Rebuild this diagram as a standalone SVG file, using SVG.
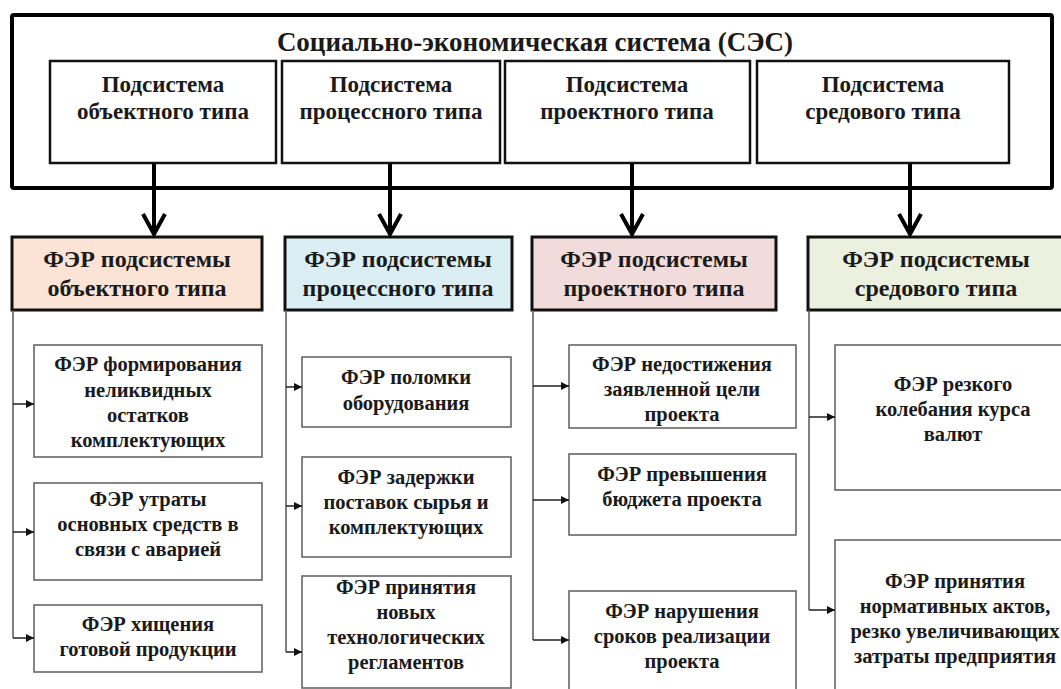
<svg xmlns="http://www.w3.org/2000/svg" width="1061" height="689" viewBox="0 0 1061 689" font-family="Liberation Serif, Tinos, Times New Roman, serif">
<style>
text{font-weight:700;fill:#1a1a1a;text-anchor:middle}
.title{font-size:27px}
.sub{font-size:23px}
.hdr{font-size:24px}
.ch{font-size:20.5px}
.outer{fill:none;stroke:#000;stroke-width:4}
.sbox{fill:#fff;stroke:#111;stroke-width:2.5}
.hbox{stroke:#111;stroke-width:3}
.cbox{fill:#fff;stroke:#666;stroke-width:1.6}
.big{fill:none;stroke:#000;stroke-width:4}
.thin{fill:none;stroke:#555;stroke-width:1.5}
.br{fill:none;stroke:#222;stroke-width:1.5}
</style>
<defs>
<marker id="sm" viewBox="0 0 10 10" refX="10" refY="5" markerWidth="9" markerHeight="8" markerUnits="userSpaceOnUse" orient="auto">
<path d="M0,0 L10,5 L0,10 z" fill="#111"/>
</marker>
</defs>
<rect width="1061" height="689" fill="#fff"/>
<g id="ses">
<rect class="outer" x="12" y="15" width="1040" height="173" rx="2"/>
<text class="title" x="535" y="51">Социально-экономическая система (СЭС)</text>
</g>
<g id="sub1"><rect class="sbox" x="50" y="61" width="226" height="102"/><text class="sub" x="163" y="92">Подсистема</text><text class="sub" x="163" y="119">объектного типа</text></g>
<g id="sub2"><rect class="sbox" x="282" y="61" width="218" height="102"/><text class="sub" x="391" y="92">Подсистема</text><text class="sub" x="391" y="119">процессного типа</text></g>
<g id="sub3"><rect class="sbox" x="505" y="61" width="245" height="102"/><text class="sub" x="627" y="92">Подсистема</text><text class="sub" x="627" y="119">проектного типа</text></g>
<g id="sub4"><rect class="sbox" x="757" y="61" width="252" height="102"/><text class="sub" x="883" y="92">Подсистема</text><text class="sub" x="883" y="119">средового типа</text></g>

<g id="fer1"><rect class="hbox" x="12" y="237" width="250" height="73" fill="#fbe4d5"/><text class="hdr" x="137" y="267">ФЭР подсистемы</text><text class="hdr" x="137" y="296">объектного типа</text></g>
<g id="fer2"><rect class="hbox" x="285" y="237" width="227" height="73" fill="#dbeef4"/><text class="hdr" x="398" y="267">ФЭР подсистемы</text><text class="hdr" x="398" y="296">процессного типа</text></g>
<g id="fer3"><rect class="hbox" x="532" y="237" width="244" height="73" fill="#f2dcdb"/><text class="hdr" x="654" y="267">ФЭР подсистемы</text><text class="hdr" x="654" y="296">проектного типа</text></g>
<g id="fer4"><rect class="hbox" x="808" y="237" width="258" height="73" fill="#ebf1de"/><text class="hdr" x="936" y="267">ФЭР подсистемы</text><text class="hdr" x="936" y="296">средового типа</text></g>

<g id="c1a"><rect class="cbox" x="34" y="345" width="228" height="112"/><text class="ch" x="148" y="371">ФЭР формирования</text><text class="ch" x="148" y="397">неликвидных</text><text class="ch" x="148" y="422">остатков</text><text class="ch" x="148" y="447">комплектующих</text></g>
<g id="c1b"><rect class="cbox" x="34" y="483" width="228" height="97"/><text class="ch" x="148" y="506">ФЭР утраты</text><text class="ch" x="148" y="531">основных средств в</text><text class="ch" x="148" y="556">связи с аварией</text></g>
<g id="c1c"><rect class="cbox" x="34" y="605" width="228" height="67"/><text class="ch" x="148" y="631">ФЭР хищения</text><text class="ch" x="148" y="656">готовой продукции</text></g>

<g id="c2a"><rect class="cbox" x="302" y="357" width="209" height="70"/><text class="ch" x="406" y="384">ФЭР поломки</text><text class="ch" x="406" y="410">оборудования</text></g>
<g id="c2b"><rect class="cbox" x="302" y="457" width="209" height="100"/><text class="ch" x="406" y="484">ФЭР задержки</text><text class="ch" x="406" y="509">поставок сырья и</text><text class="ch" x="406" y="534">комплектующих</text></g>
<g id="c2c"><rect class="cbox" x="302" y="576" width="209" height="112"/><text class="ch" x="406" y="594">ФЭР принятия</text><text class="ch" x="406" y="619">новых</text><text class="ch" x="406" y="644">технологических</text><text class="ch" x="406" y="669">регламентов</text></g>

<g id="c3a"><rect class="cbox" x="569" y="345" width="227" height="83"/><text class="ch" x="682" y="371">ФЭР недостижения</text><text class="ch" x="682" y="396">заявленной цели</text><text class="ch" x="682" y="421">проекта</text></g>
<g id="c3b"><rect class="cbox" x="569" y="454" width="227" height="81"/><text class="ch" x="682" y="481">ФЭР превышения</text><text class="ch" x="682" y="506">бюджета проекта</text></g>
<g id="c3c"><rect class="cbox" x="569" y="591" width="227" height="110"/><text class="ch" x="682" y="618">ФЭР нарушения</text><text class="ch" x="682" y="643">сроков реализации</text><text class="ch" x="682" y="668">проекта</text></g>

<g id="c4a"><rect class="cbox" x="835" y="345" width="235" height="145"/><text class="ch" x="953" y="391">ФЭР резкого</text><text class="ch" x="953" y="416">колебания курса</text><text class="ch" x="953" y="441">валют</text></g>
<g id="c4b"><rect class="cbox" x="835" y="540" width="235" height="160"/><text class="ch" x="955" y="588">ФЭР принятия</text><text class="ch" x="955" y="613">нормативных актов,</text><text class="ch" x="955" y="638">резко увеличивающих</text><text class="ch" x="955" y="663">затраты предприятия</text></g>

<g id="connectors">
<path class="big" d="M154,163 V234 M143,214 L154,234 L165,214"/>
<path class="big" d="M390,163 V234 M379,214 L390,234 L401,214"/>
<path class="big" d="M632,163 V234 M621,214 L632,234 L643,214"/>
<path class="big" d="M910,163 V234 M899,214 L910,234 L921,214"/>
<path class="thin" d="M13,310 V638"/>
<line class="br" x1="13" y1="404" x2="34" y2="404" marker-end="url(#sm)"/>
<line class="br" x1="13" y1="532" x2="34" y2="532" marker-end="url(#sm)"/>
<line class="br" x1="13" y1="638" x2="34" y2="638" marker-end="url(#sm)"/>
<path class="thin" d="M286,310 V652"/>
<line class="br" x1="286" y1="387" x2="302" y2="387" marker-end="url(#sm)"/>
<line class="br" x1="286" y1="506" x2="302" y2="506" marker-end="url(#sm)"/>
<line class="br" x1="286" y1="652" x2="302" y2="652" marker-end="url(#sm)"/>
<path class="thin" d="M533,310 V640"/>
<line class="br" x1="533" y1="386" x2="569" y2="386" marker-end="url(#sm)"/>
<line class="br" x1="533" y1="500" x2="569" y2="500" marker-end="url(#sm)"/>
<line class="br" x1="533" y1="640" x2="569" y2="640" marker-end="url(#sm)"/>
<path class="thin" d="M809,310 V610"/>
<line class="br" x1="809" y1="417" x2="835" y2="417" marker-end="url(#sm)"/>
<line class="br" x1="809" y1="610" x2="835" y2="610" marker-end="url(#sm)"/>
</g>
</svg>
